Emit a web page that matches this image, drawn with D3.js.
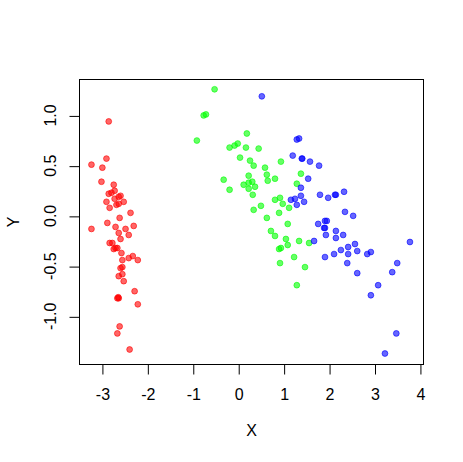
<!DOCTYPE html>
<html>
<head>
<meta charset="utf-8">
<script src="https://cdn.jsdelivr.net/npm/d3@7"></script>
<style>
  html, body { margin: 0; padding: 0; background: white; }
  text { font-family: "Liberation Sans", Arial, sans-serif; font-size: 16px; fill: black; }
</style>
</head>
<body>
<div id="chart"></div>
<script>
// values
const setosaX = [-2.85, -2.90, -3.23, -2.99, -3.01, -2.74, -2.72, -2.85, -2.79, -2.72,
  -2.59, -2.63, -2.90, -2.52, -2.68, -2.63, -2.83, -2.37, -2.61, -2.88,
  -2.70, -2.30, -3.23, -2.48, -2.63, -2.41, -2.59, -2.83, -2.77, -2.74,
  -2.70, -2.66, -2.57, -2.55, -2.41, -2.32, -2.21, -2.59, -2.55, -2.55,
  -2.63, -2.52, -2.28, -2.66, -2.63, -2.64, -2.21, -2.61, -2.66, -2.39];
const setosaY = [0.94, 0.57, 0.51, 0.48, 0.34, 0.31, 0.25, 0.22, 0.23, 0.17,
  0.20, 0.19, 0.14, 0.14, 0.11, 0.12, 0.08, 0.03, -0.02, -0.07,
  -0.11, -0.10, -0.13, -0.13, -0.17, -0.19, -0.23, -0.27, -0.27, -0.33,
  -0.32, -0.32, -0.37, -0.44, -0.42, -0.40, -0.44, -0.52, -0.51, -0.58,
  -0.60, -0.65, -0.75, -0.82, -0.82, -0.81, -0.88, -1.10, -1.17, -1.33];

const versicolorX = [-0.52, -0.76, -0.71, -0.91, 0.19, -0.19, -0.08, -0.01, 0.17, 0.45,
  0.04, 0.26, 0.34, 0.59, 0.94, 0.63, 0.23, 0.81, 0.65, -0.32,
  0.31, 0.23, 0.12, 0.37, -0.19, 0.23, 0.32, 0.34, 0.50, 0.63,
  0.81, 0.92, 0.98, 1.12, 0.90, 1.09, 0.72, 0.81, 1.05, 1.09,
  0.90, 0.94, 1.34, 1.56, 1.23, 0.92, 1.47, 1.29, 1.38, 1.29];
const versicolorY = [1.26, 1.00, 1.01, 0.75, 0.82, 0.68, 0.70, 0.72, 0.68, 0.67,
  0.58, 0.55, 0.50, 0.48, 0.54, 0.41, 0.40, 0.37, 0.35, 0.36,
  0.34, 0.33, 0.31, 0.29, 0.26, 0.27, 0.21, 0.06, 0.10, -0.02,
  0.16, 0.18, 0.12, 0.08, 0.03, -0.08, -0.15, -0.20, -0.23, -0.29,
  -0.33, -0.32, -0.25, -0.27, -0.41, -0.47, -0.51, -0.69, 0.42, 0.32];

const virginicaX = [0.52, 1.29, 1.34, 1.20, 1.40, 1.41, 1.58, 1.78, 1.54, 1.38,
  1.16, 1.25, 1.38, 1.29, 1.45, 1.67, 1.80, 1.98, 2.13, 2.15,
  2.33, 2.35, 2.53, 1.91, 1.95, 1.76, 1.89, 1.91, 2.15, 1.93,
  2.15, 2.31, 2.57, 2.42, 2.26, 2.62, 2.11, 2.42, 1.91, 2.40,
  2.62, 3.78, 2.84, 2.92, 3.50, 3.39, 3.08, 2.92, 3.48, 3.23];
const virginicaY = [1.19, 0.76, 0.77, 0.60, 0.57, 0.57, 0.54, 0.50, 0.37, 0.28,
  0.16, 0.17, 0.20, 0.11, 0.14, -0.25, 0.21, 0.18, 0.21, 0.21,
  0.24, 0.04, 0.00, -0.05, -0.05, -0.08, -0.12, -0.12, -0.15, -0.19,
  -0.22, -0.19, -0.28, -0.31, -0.34, -0.35, -0.38, -0.38, -0.41, -0.47,
  -0.57, -0.26, -0.38, -0.36, -0.47, -0.56, -0.69, -0.79, -1.17, -1.37];

const groups = ["setosa", "versicolor", "virginica"];
const groupColors = ["#FF0000", "#00FF00", "#0000FF"];
const xTicks = [-3, -2, -1, 0, 1, 2, 3, 4];
const yTicks = [-1.0, -0.5, 0.0, 0.5, 1.0];
const xTitle = "X";
const yTitle = "Y";

const width = 463;
const height = 462;
const line = 19.2; // one margin line in R at this pointsize
const margin = { top: 4.1 * line, right: 2.1 * line, bottom: 5.1 * line, left: 4.1 * line };

const points = [];
[[setosaX, setosaY], [versicolorX, versicolorY], [virginicaX, virginicaY]].forEach(function (xy, gi) {
  xy[0].forEach(function (v, i) {
    points.push({ group: groups[gi], x: v, y: xy[1][i] });
  });
});

// R style 4% padding on the data range
function padded(ext) {
  const d = (ext[1] - ext[0]) * 0.04;
  return [ext[0] - d, ext[1] + d];
}

const xScale = d3.scaleLinear()
  .domain(padded(d3.extent(points, d => d.x)))
  .range([margin.left, width - margin.right]);
const yScale = d3.scaleLinear()
  .domain(padded(d3.extent(points, d => d.y)))
  .range([height - margin.bottom, margin.top]);
const color = d3.scaleOrdinal().domain(groups).range(groupColors);

const svg = d3.select("#chart").append("svg")
  .attr("width", width)
  .attr("height", height);

const x0 = Math.round(margin.left) + 0.5;
const x1 = Math.round(width - margin.right) + 0.5;
const y0 = Math.round(margin.top) + 0.5;
const y1 = Math.round(height - margin.bottom) + 0.5;

// points
svg.append("g")
  .selectAll("circle")
  .data(points)
  .enter()
  .append("circle")
  .attr("cx", d => xScale(d.x))
  .attr("cy", d => yScale(d.y))
  .attr("r", 2.9)
  .attr("fill", d => color(d.group))
  .attr("fill-opacity", 0.6)
  .attr("stroke", d => color(d.group))
  .attr("stroke-opacity", 0.6)
  .attr("stroke-width", 1);

// box
svg.append("rect")
  .attr("x", x0)
  .attr("y", y0)
  .attr("width", x1 - x0)
  .attr("height", y1 - y0)
  .attr("fill", "none")
  .attr("stroke", "black")
  .attr("stroke-width", 1);

// x axis
const xAxis = d3.axisBottom(xScale)
  .tickValues(xTicks)
  .tickFormat(d => String(d))
  .tickSize(10)
  .tickPadding(14)
  .tickSizeOuter(0);
const gx = svg.append("g")
  .attr("transform", `translate(0.5, ${y1})`)
  .call(xAxis);
gx.select(".domain")
  .attr("d", `M${Math.round(xScale(xTicks[0]))},0H${Math.round(xScale(xTicks[xTicks.length - 1]))}`)
  .attr("stroke", "black");
gx.selectAll(".tick line").attr("stroke", "black");
gx.selectAll(".tick text")
  .attr("font-size", 16)
  .attr("font-family", "Liberation Sans, Arial, sans-serif")
  .attr("fill", "black")
  .attr("y", 0)
  .attr("dy", 0)
  .attr("transform", "translate(0, 35)");

// y axis
const yAxis = d3.axisLeft(yScale)
  .tickValues(yTicks)
  .tickSize(10)
  .tickSizeOuter(0);
const gy = svg.append("g")
  .attr("transform", `translate(${x0}, 0.5)`)
  .call(yAxis);
gy.select(".domain")
  .attr("d", `M0,${Math.round(yScale(yTicks[0]))}V${Math.round(yScale(yTicks[yTicks.length - 1]))}`)
  .attr("stroke", "black");
gy.selectAll(".tick line").attr("stroke", "black");
gy.selectAll(".tick text").remove();

// rotated y tick labels, like R's las = 0
svg.append("g")
  .selectAll("text")
  .data(yTicks)
  .enter()
  .append("text")
  .attr("transform", d => `translate(56, ${yScale(d)}) rotate(-90)`)
  .attr("text-anchor", "middle")
  .text(d => d.toFixed(1));

// axis titles
svg.append("text")
  .attr("x", (x0 + x1) / 2)
  .attr("y", 436)
  .attr("text-anchor", "middle")
  .text(xTitle);

svg.append("text")
  .attr("transform", `translate(18.5, ${(y0 + y1) / 2}) rotate(-90)`)
  .attr("text-anchor", "middle")
  .text(yTitle);
</script>
</body>
</html>
